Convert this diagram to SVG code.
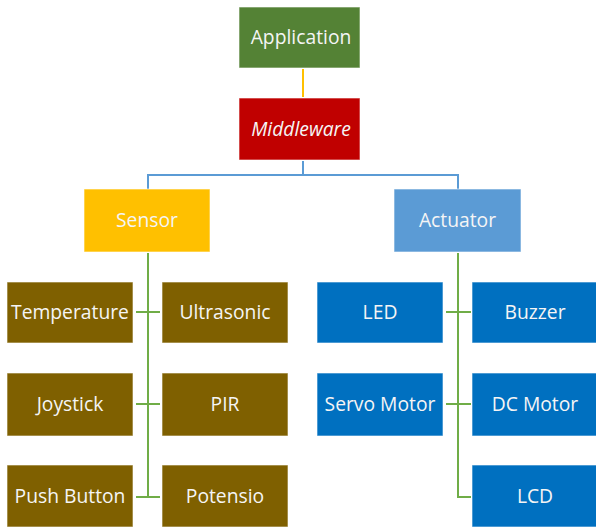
<svg xmlns="http://www.w3.org/2000/svg" width="596" height="528" viewBox="0 0 596 528">
<style>
.box{stroke:#ffffff;stroke-width:1;stroke-opacity:0.6}
.t{font-family:"Open Sans","Noto Sans",sans-serif;font-size:19.3px;fill:#f5f5f5;text-anchor:middle;dominant-baseline:central}
.c{fill:none;stroke-width:2}
</style>
<rect width="596" height="528" fill="#ffffff"/>
<g id="connectors">
<path class="c" stroke="#FFC000" d="M303 69V97"/>
<path class="c" stroke="#5B9BD5" d="M303 161V175H148V189M303 175H458V189"/>
<path class="c" stroke="#70AD47" d="M148 253V497M136 312H160M136 404H160M136 497H160"/>
<path class="c" stroke="#70AD47" d="M458 253V497H471M446 312H471M446 404H471"/>
</g>
<g id="application"><rect class="box" x="239" y="7" width="121" height="61" fill="#548235"/><text class="t" x="301" y="36.5">Application</text></g>
<g id="middleware"><rect class="box" x="239" y="98" width="121" height="62" fill="#C00000"/><text class="t" x="301" y="128" font-style="italic">Middleware</text></g>
<g id="sensor"><rect class="box" x="84" y="189" width="126" height="63" fill="#FFC000"/><text class="t" x="147" y="219.5">Sensor</text></g>
<g id="actuator"><rect class="box" x="394" y="189" width="127" height="63" fill="#5B9BD5"/><text class="t" x="457.5" y="219.5">Actuator</text></g>
<g id="temperature"><rect class="box" x="7" y="282" width="126" height="61" fill="#7F6000"/><text class="t" x="70" y="311.5">Temperature</text></g>
<g id="ultrasonic"><rect class="box" x="162" y="282" width="126" height="61" fill="#7F6000"/><text class="t" x="225" y="311.5">Ultrasonic</text></g>
<g id="joystick"><rect class="box" x="7" y="373" width="126" height="63" fill="#7F6000"/><text class="t" x="70" y="403.5">Joystick</text></g>
<g id="pir"><rect class="box" x="162" y="373" width="126" height="63" fill="#7F6000"/><text class="t" x="225" y="403.5">PIR</text></g>
<g id="pushbutton"><rect class="box" x="7" y="465" width="126" height="62" fill="#7F6000"/><text class="t" x="70" y="495">Push Button</text></g>
<g id="potensio"><rect class="box" x="162" y="465" width="126" height="62" fill="#7F6000"/><text class="t" x="225" y="495">Potensio</text></g>
<g id="led"><rect class="box" x="317" y="282" width="126" height="61" fill="#0070C0"/><text class="t" x="380" y="311.5">LED</text></g>
<g id="buzzer"><rect class="box" x="472" y="282" width="126" height="61" fill="#0070C0"/><text class="t" x="535" y="311.5">Buzzer</text></g>
<g id="servomotor"><rect class="box" x="317" y="373" width="126" height="63" fill="#0070C0"/><text class="t" x="380" y="403.5">Servo Motor</text></g>
<g id="dcmotor"><rect class="box" x="472" y="373" width="126" height="63" fill="#0070C0"/><text class="t" x="535" y="403.5">DC Motor</text></g>
<g id="lcd"><rect class="box" x="472" y="465" width="126" height="62" fill="#0070C0"/><text class="t" x="535" y="495">LCD</text></g>
</svg>
